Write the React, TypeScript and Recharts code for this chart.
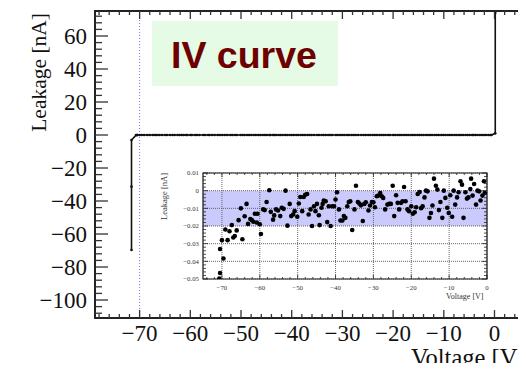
import React from "react";
import {
  LineChart,
  Line,
  XAxis,
  YAxis,
  ReferenceLine,
  ReferenceArea,
  ScatterChart,
  Scatter,
} from "recharts";

// ---------- data ----------
// initial settling points of the IV scan (V, nA)
const settleV = [-71.6, -71.6, -71.6];
const settleI = [-69.7, -31.3, -3.0];

// fine scan, shown in the inset (V, nA)
const scanV = [
  -70.7, -70.5, -70.5, -70.0, -69.6, -69.1, -68.5, -68.0, -67.4, -67.0, -66.6, -66.1, -65.6, -65.0, -64.6, -64.0,
  -63.5, -63.1, -62.5, -62.1, -61.7, -61.3, -60.8, -60.6, -60.0, -59.7, -59.1, -58.7, -58.2, -57.5, -57.1, -56.5,
  -56.2, -55.7, -55.2, -54.6, -54.2, -53.7, -53.2, -52.7, -52.1, -51.7, -51.2, -50.8, -50.1, -49.7, -49.3, -48.8,
  -48.4, -48.0, -47.5, -47.1, -46.6, -46.2, -45.7, -45.3, -44.9, -44.4, -44.2, -43.7, -43.4, -43.1, -42.6, -42.2,
  -41.8, -41.3, -40.9, -40.4, -40.0, -39.6, -39.1, -38.7, -38.2, -37.8, -37.4, -36.9, -36.5, -36.1, -35.6, -35.0,
  -34.6, -34.1, -33.7, -33.3, -32.8, -32.4, -32.0, -31.3, -30.9, -30.4, -30.0, -29.6, -29.1, -28.7, -28.2, -27.8,
  -27.4, -26.9, -26.3, -25.8, -25.4, -24.9, -24.5, -24.0, -23.6, -23.2, -22.7, -22.3, -21.9, -21.5, -21.0, -20.6,
  -20.0, -19.6, -19.1, -18.7, -18.3, -17.8, -17.4, -17.0, -16.5, -16.1, -15.7, -15.2, -14.8, -14.4, -14.0, -13.5,
  -13.1, -12.7, -12.3, -11.8, -11.4, -11.0, -10.5, -10.1, -9.7, -9.2, -8.8, -8.4, -7.9, -7.5, -7.0, -6.6,
  -6.2, -5.7, -5.3, -4.9, -4.4, -4.2, -3.8, -3.4, -2.9, -2.5, -2.1, -1.7, -1.2, -0.8, -0.6,
];
const scanI = [
  -0.0497, -0.0466, -0.033, -0.028, -0.0384, -0.022, -0.028, -0.023, -0.0195, -0.0265, -0.0257, -0.0225, -0.0167, -0.010, -0.0275, -0.0145,
  -0.0075, -0.0188, -0.016, -0.0167, -0.0176, -0.0131, -0.018, -0.0131, -0.019, -0.0245, -0.0106, -0.011, -0.0064, 0.0002, -0.012, -0.0164,
  -0.014, -0.0106, -0.0112, -0.0144, -0.0097, -0.0103, 0.0, -0.0198, -0.0075, -0.0144, -0.0135, -0.0116, -0.0148, -0.0073, -0.0036, -0.0116,
  -0.0036, -0.0023, -0.0019, -0.0135, -0.0106, -0.020, -0.0088, -0.0116, -0.0075, -0.0139, -0.0195, -0.0097, -0.0075, -0.0056, -0.006, -0.0178,
  -0.0088, -0.020, -0.0088, -0.0088, -0.005, -0.0009, -0.0106, -0.0169, -0.0169, -0.0144, -0.0154, -0.0088, -0.0064, -0.006, -0.0223, -0.0106,
  0.0028, -0.0064, -0.0073, -0.0083, -0.0172, -0.0075, -0.0066, -0.0112, -0.0084, -0.0064, -0.0066, -0.0094, -0.0032, -0.0028, -0.0013, -0.0032,
  -0.0041, -0.0106, -0.0079, -0.0075, -0.0075, 0.0028, -0.0144, -0.0026, -0.0069, -0.0106, -0.0069, -0.006, 0.0021, -0.006, -0.0106, -0.0116,
  -0.0088, -0.0131, -0.0122, -0.0094, -0.0019, -0.0008, -0.0099, -0.0088, -0.0038, 0.0, -0.0004, -0.0154, -0.0126, -0.0084, 0.0068, 0.0028,
  0.0006, -0.011, -0.0064, -0.0154, 0.0, -0.0041, -0.0097, -0.0126, -0.0026, -0.0148, 0.0, -0.0079, -0.0038, -0.0009, 0.0053, 0.0034,
  -0.0154, -0.0009, -0.0045, -0.0038, 0.0009, 0.0068, -0.0028, 0.0038, -0.0079, 0.0, -0.0004, -0.0056, -0.0028, 0.0053, -0.0013,
];

// breakdown at the end of the scan (V, nA)
const riseV = [0.15, 0.15];
const riseI = [1.0, 74.0];

// main axes ticks
const mainXMajor = [-70, -60, -50, -40, -30, -20, -10, 0];
const mainXTicks = [-78, -76, -74, -72, -70, -68, -66, -64, -62, -60, -58, -56, -54, -52, -50, -48, -46, -44, -42, -40, -38, -36, -34, -32, -30, -28, -26, -24, -22, -20, -18, -16, -14, -12, -10, -8, -6, -4, -2, 0, 2, 4, 6];
const mainYMajor = [-100, -80, -60, -40, -20, 0, 20, 40, 60];
const mainYTicks = [-108, -104, -100, -96, -92, -88, -84, -80, -76, -72, -68, -64, -60, -56, -52, -48, -44, -40, -36, -32, -28, -24, -20, -16, -12, -8, -4, 0, 4, 8, 12, 16, 20, 24, 28, 32, 36, 40, 44, 48, 52, 56, 60, 64, 68, 72];
const mainXDomain = [-78.8, 7.2];
const mainYDomain = [-110.9, 75.15];

// inset axes ticks
const insetXMajor = [-70, -60, -50, -40, -30, -20, -10, 0];
const insetXTicks = [-74, -72, -70, -68, -66, -64, -62, -60, -58, -56, -54, -52, -50, -48, -46, -44, -42, -40, -38, -36, -34, -32, -30, -28, -26, -24, -22, -20, -18, -16, -14, -12, -10, -8, -6, -4, -2, 0];
const insetYMajor = [0.01, 0, -0.01, -0.02, -0.03, -0.04, -0.05];
const insetYLabels = ["0.01", "0", "−0.01", "−0.02", "−0.03", "−0.04", "−0.05"];
const insetYTicks = [
  0.01, 0.008, 0.006, 0.004, 0.002, 0, -0.002, -0.004, -0.006, -0.008, -0.01, -0.012, -0.014, -0.016, -0.018, -0.02,
  -0.022, -0.024, -0.026, -0.028, -0.03, -0.032, -0.034, -0.036, -0.038, -0.04, -0.042, -0.044, -0.046, -0.048, -0.05,
];
const insetXDomain = [-75, 0];
const insetYDomain = [-0.05, 0.01];
const bandRange = [-0.02, 0];

const titleText = "IV curve";
const xTitle = "Voltage [V]";
const yTitle = "Leakage [nA]";

// ---------- derived tables ----------
const mainData = [
  ...settleV.map((v, k) => ({ v, i: settleI[k] })),
  ...scanV.map((v, k) => ({ v, i: scanI[k] })),
  ...riseV.map((v, k) => ({ v, i: riseI[k] })),
];
const insetData = scanV.map((v, k) => ({ v, i: scanI[k] }));

// ---------- layout ----------
const W = 560;
const H = 371;
const PL = 95;
const PT = 11;
const PR = 531;
const PB = 318;
const AX = 1; // axis thickness reserved by recharts
const SERIF = "'Liberation Serif', 'Times New Roman', serif";
const SANS = "'Liberation Sans', Arial, sans-serif";

const fmtMinus = (v: number) => (v < 0 ? "−" + String(Math.abs(v)) : String(v));

const MainXTick = (props: any) => {
  const { x, payload } = props;
  const v = payload.value;
  const major = mainXMajor.includes(v);
  const len = major ? 8 : 4;
  return (
    <g>
      <line x1={x} x2={x} y1={PB} y2={PB - len} stroke="#333" strokeWidth={1.3} />
      <line x1={x} x2={x} y1={PT} y2={PT + len} stroke="#333" strokeWidth={1.3} />
      {major && (
        <text x={x} y={341} textAnchor="middle" fontFamily={SERIF} fontSize={23} fill="#111">
          {fmtMinus(v)}
        </text>
      )}
    </g>
  );
};

const MainYTick = (props: any) => {
  const { y, payload } = props;
  const v = payload.value;
  const major = mainYMajor.includes(v);
  const len = major ? 13 : 7;
  return (
    <g>
      <line x1={PL} x2={PL + len} y1={y} y2={y} stroke="#333" strokeWidth={1.3} />
      <line x1={PR} x2={PR - len} y1={y} y2={y} stroke="#333" strokeWidth={1.3} />
      {major && (
        <text x={87} y={y + 8} textAnchor="end" fontFamily={SERIF} fontSize={23} fill="#111">
          {fmtMinus(v)}
        </text>
      )}
    </g>
  );
};

// inset layout (local to inset chart)
const IW = 350;
const IH = 148;
const IPL = 53;
const IPT = 13;
const IPR = 337;
const IPB = 119;

const InsetXTick = (props: any) => {
  const { x, payload } = props;
  const v = payload.value;
  const major = insetXMajor.includes(v);
  const len = major ? 4 : 2;
  return (
    <g>
      <line x1={x} x2={x} y1={IPB} y2={IPB - len} stroke="#222" strokeWidth={0.8} />
      <line x1={x} x2={x} y1={IPT} y2={IPT + len} stroke="#222" strokeWidth={0.8} />
      {major && (
        <text x={x} y={129.5} textAnchor="middle" fontFamily={SERIF} fontSize={6.8} fill="#333">
          {fmtMinus(v)}
        </text>
      )}
    </g>
  );
};

const InsetYTick = (props: any) => {
  const { y, payload } = props;
  const v = payload.value;
  const idx = insetYMajor.findIndex((m) => Math.abs(m - v) < 1e-9);
  const major = idx >= 0;
  const len = major ? 5 : 3;
  return (
    <g>
      <line x1={IPL} x2={IPL + len} y1={y} y2={y} stroke="#222" strokeWidth={0.8} />
      <line x1={IPR} x2={IPR - len} y1={y} y2={y} stroke="#222" strokeWidth={0.8} />
      {major && (
        <text x={49} y={y + 2.3} textAnchor="end" fontFamily={SERIF} fontSize={6.8} fill="#333">
          {insetYLabels[idx]}
        </text>
      )}
    </g>
  );
};

const Inset = () => (
  <ScatterChart
    width={IW}
    height={IH}
    margin={{ top: IPT, left: IPL - AX, right: IW - IPR, bottom: IH - IPB - AX }}
  >
    <XAxis
      type="number"
      dataKey="v"
      domain={insetXDomain}
      allowDataOverflow
      ticks={insetXTicks}
      interval={0}
      height={AX}
      axisLine={false}
      tickLine={false}
      tick={(p: any) => <InsetXTick {...p} />}
    />
    <YAxis
      type="number"
      dataKey="i"
      domain={insetYDomain}
      allowDataOverflow
      ticks={insetYTicks}
      interval={0}
      width={AX}
      axisLine={false}
      tickLine={false}
      tick={(p: any) => <InsetYTick {...p} />}
    />
    <ReferenceArea y1={bandRange[0]} y2={bandRange[1]} x1={insetXDomain[0]} x2={insetXDomain[1]} fill="#cacafc" fillOpacity={1} stroke="none" />
    {insetXMajor.map((v) => (
      <ReferenceLine key={"gx" + v} x={v} stroke="#555" strokeWidth={0.9} strokeDasharray="1 1" />
    ))}
    {insetYMajor.map((v) => (
      <ReferenceLine key={"gy" + v} y={v} stroke="#555" strokeWidth={0.9} strokeDasharray="1 1" />
    ))}
    <ReferenceArea
      x1={insetXDomain[0]}
      x2={insetXDomain[1]}
      y1={insetYDomain[0]}
      y2={insetYDomain[1]}
      fill="none"
      stroke="#111"
      strokeWidth={1.2}
    />
    <Scatter
      data={insetData}
      isAnimationActive={false}
      shape={(p: any) => <circle cx={p.cx} cy={p.cy} r={2.3} fill="#000" />}
    />
    <text transform={`rotate(-90 17 13)`} x={17} y={13} textAnchor="end" fontFamily={SERIF} fontSize={8.5} fill="#333">
      {yTitle}
    </text>
    <text x={333.5} y={139} textAnchor="end" fontFamily={SERIF} fontSize={8} fill="#333">
      {xTitle}
    </text>
  </ScatterChart>
);

export default function App() {
  return (
    <div style={{ margin: -8, width: 526, height: 371, overflow: "hidden", position: "relative", background: "#fff" }}>
      <div style={{ position: "absolute", left: 0, top: 0, width: 7, height: 371, background: "#eeeef9" }} />
      <div style={{ position: "absolute", left: 0, top: 0 }}>
        <LineChart
          width={W}
          height={H}
          data={mainData}
          margin={{ top: PT, left: PL - AX, right: W - PR, bottom: H - PB - AX }}
        >
          <XAxis
            type="number"
            dataKey="v"
            domain={mainXDomain}
            allowDataOverflow
            ticks={mainXTicks}
            interval={0}
            height={AX}
            axisLine={false}
            tickLine={false}
            tick={(p: any) => <MainXTick {...p} />}
          />
          <YAxis
            type="number"
            domain={mainYDomain}
            allowDataOverflow
            ticks={mainYTicks}
            interval={0}
            width={AX}
            axisLine={false}
            tickLine={false}
            tick={(p: any) => <MainYTick {...p} />}
          />
          <ReferenceLine x={-70} stroke="#7070ff" strokeWidth={1} strokeDasharray="1 2" />
          <ReferenceArea
            x1={mainXDomain[0]}
            x2={mainXDomain[1]}
            y1={mainYDomain[0]}
            y2={mainYDomain[1]}
            fill="none"
            stroke="#222"
            strokeWidth={2}
          />
          <Line
            dataKey="i"
            stroke="#111"
            strokeWidth={1.6}
            isAnimationActive={false}
            dot={{ r: 1.3, fill: "#111", stroke: "none" }}
          />
          <text transform={`rotate(-90 46 13)`} x={46} y={13} textAnchor="end" fontFamily={SERIF} fontSize={21.5} fill="#111">
            {yTitle}
          </text>
        </LineChart>
      </div>
      <div
        style={{
          position: "absolute",
          left: 411,
          top: 347,
          whiteSpace: "nowrap",
          fontFamily: SERIF,
          fontSize: 24.5,
          lineHeight: "22px",
          color: "#111",
        }}
      >
        {xTitle}
      </div>
      <div
        style={{
          position: "absolute",
          left: 152,
          top: 21,
          width: 186,
          height: 65,
          background: "#e5fbe5",
        }}
      >
        <svg width={186} height={65}>
          <text x={19} y={47} fontFamily={SANS} fontWeight="bold" fontSize={37.5} fill="#6e0000">
            {titleText}
          </text>
        </svg>
      </div>
      <div style={{ position: "absolute", left: 150, top: 160 }}>
        <Inset />
      </div>
    </div>
  );
}
